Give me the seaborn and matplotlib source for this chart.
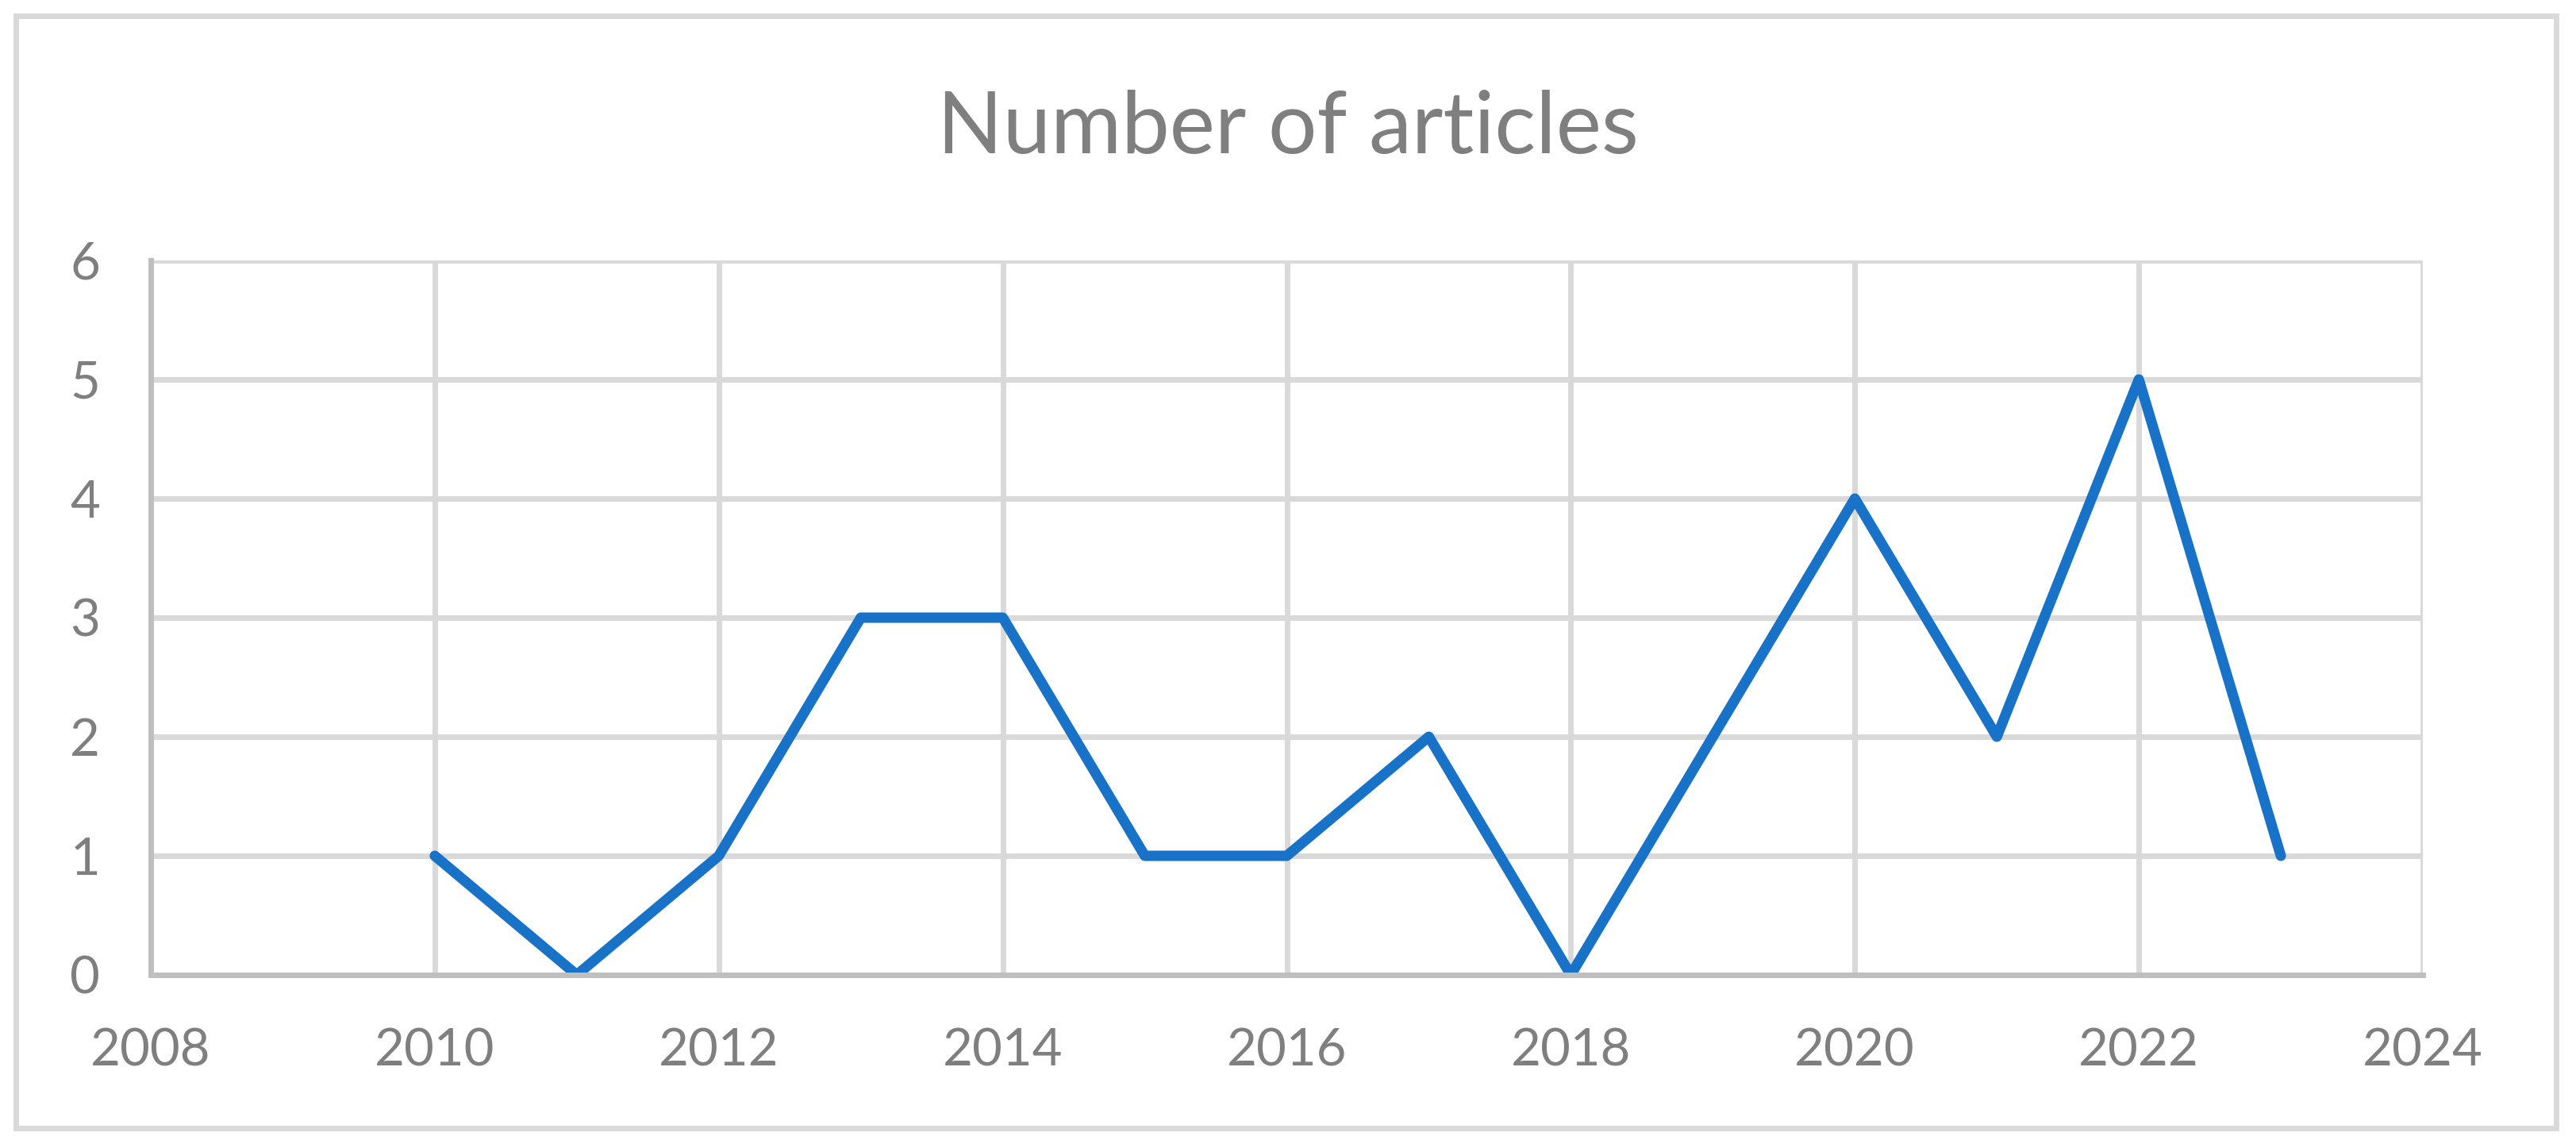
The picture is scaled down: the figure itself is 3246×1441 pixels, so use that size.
import matplotlib
matplotlib.use("Agg")
import matplotlib.pyplot as plt
import seaborn as sns
import pandas as pd
from matplotlib.patches import Rectangle

# Data
years = [2010, 2011, 2012, 2013, 2014, 2015, 2016, 2017, 2018, 2019, 2020, 2021, 2022, 2023]
articles = [1, 0, 1, 3, 3, 1, 1, 2, 0, 2, 4, 2, 5, 1]
x_ticks = [2008, 2010, 2012, 2014, 2016, 2018, 2020, 2022, 2024]
y_ticks = [0, 1, 2, 3, 4, 5, 6]
title = "Number of articles"

df = pd.DataFrame({"Year": years, "Articles": articles})

sns.set_style("white")
plt.rcParams["font.family"] = ["Lato", "DejaVu Sans"]

text_gray = "#7F7F7F"
grid_gray = "#D9D9D9"
axis_gray = "#BFBFBF"

fig = plt.figure(figsize=(32.46, 14.41), dpi=100)
ax = fig.add_axes([190 / 3246, 1 - 1228 / 1441, (3053 - 190) / 3246, (1228 - 328) / 1441])

sns.lineplot(data=df, x="Year", y="Articles", ax=ax, color="#1772C8", linewidth=9.4)

ax.set_xlim(2008, 2024)
ax.set_ylim(0, 6)
ax.set_xticks(x_ticks)
ax.set_yticks(y_ticks)
ax.set_xlabel("")
ax.set_ylabel("")
ax.grid(True, color=grid_gray, linewidth=5)
ax.set_axisbelow(True)
ax.tick_params(axis="both", length=0, labelsize=47, colors=text_gray)
ax.tick_params(axis="x", pad=48)
ax.tick_params(axis="y", pad=46)

for side in ["top", "right"]:
    ax.spines[side].set_visible(False)
for side in ["left", "bottom"]:
    ax.spines[side].set_color(axis_gray)
    ax.spines[side].set_linewidth(5)

fig.text(0.5, 1 - 163 / 1441, title, ha="center", va="center", fontsize=78, color=text_gray)

# outer chart border
border = Rectangle((20 / 3246, 20 / 1441), (3221 - 20) / 3246, (1421 - 20) / 1441,
                   transform=fig.transFigure, fill=False, edgecolor=grid_gray, linewidth=5)
fig.patches.append(border)

fig.savefig("out.png", dpi=100)
